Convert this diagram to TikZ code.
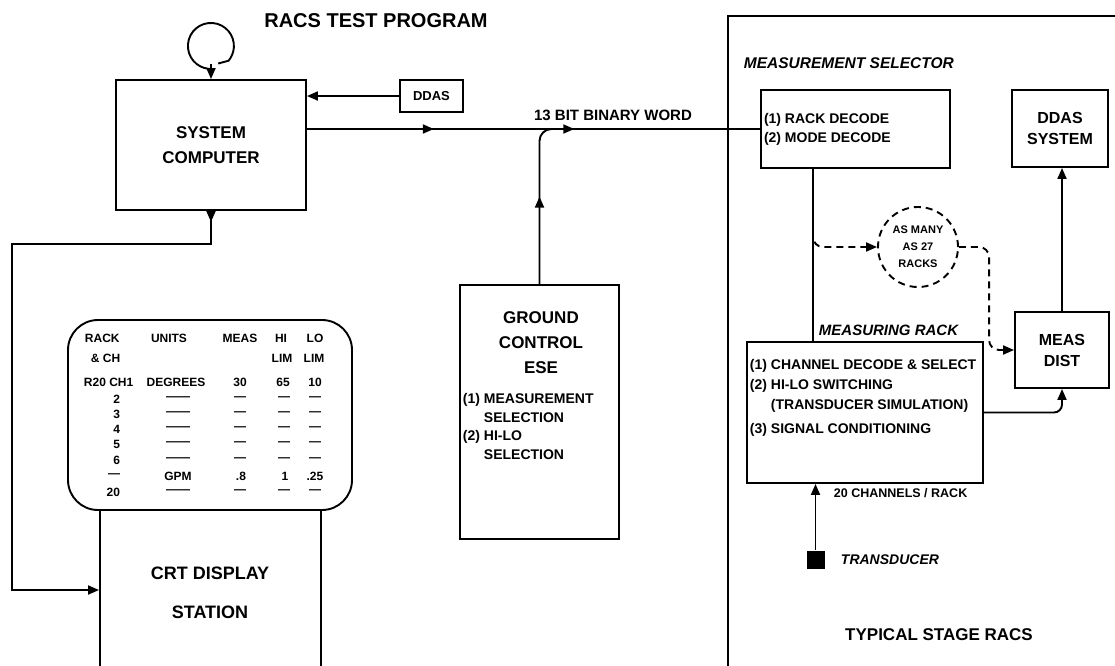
\documentclass[tikz,border=0pt]{standalone}
\usepackage{fontspec}
\setmainfont{Liberation Sans}
\usetikzlibrary{arrows.meta,decorations.markings}

\begin{document}
\begin{tikzpicture}[x=1pt,y=-1pt,line width=1.9pt,
    >={Triangle[length=11pt,width=9pt]},
    box/.style={draw,rectangle,inner sep=0pt},
    big/.style={inner sep=0pt,align=center,font=\fontsize{17}{25}\selectfont\bfseries},
    mid/.style={inner sep=0pt,align=left,font=\fontsize{14}{19}\selectfont\bfseries},
    ital/.style={inner sep=0pt,font=\fontsize{15}{18}\selectfont\bfseries\itshape},
    tab/.style={inner sep=0pt,font=\fontsize{12}{14}\selectfont\bfseries},
    midarrow/.style={postaction={decorate,decoration={markings,mark=at position #1 with {\arrow{>}}}}},
    dashline/.style={dash pattern=on 7pt off 5pt}]
  \useasboundingbox (0,0) rectangle (1115,665);
  \clip (0,0) rectangle (1115,665);

  %title and computer
  \node[inner sep=0pt,font=\fontsize{20}{24}\selectfont\bfseries] (title) at (376,21) {RACS TEST PROGRAM};
  \node[box,minimum width=190pt,minimum height=130pt,big] (comp) at (211,145) {SYSTEM\\COMPUTER};
  \node[circle,minimum size=46pt,inner sep=0pt] (loop) at (211,45) {};
  \draw (loop.-95) arc[start angle=95,end angle=400,radius=23] -- ([xshift=-1pt,yshift=4pt]loop.-70);
  \draw[->] ([yshift=5pt]loop.south) -- (comp.north);
  \node[box,minimum width=63pt,minimum height=32pt,font=\fontsize{13}{15}\selectfont\bfseries] (ddas) at (431.5,96) {DDAS};
  \draw[->] (ddas.west) -- (ddas.west -| comp.east);

  %right panel
  \node[box,minimum width=402pt,minimum height=684pt] (panel) at (929,358) {};
  \node[ital,anchor=west,font=\fontsize{15.5}{18}\selectfont\bfseries\itshape] (seltitle) at (743,63) {MEASUREMENT SELECTOR};
  \node[box,minimum width=189pt,minimum height=78pt] (msel) at (855.5,129) {};
  \node[mid,anchor=west] (seltext) at ([xshift=3pt]msel.west) {(1) RACK DECODE\\(2) MODE DECODE};
  \node[box,minimum width=96pt,minimum height=77pt,big,font=\fontsize{16}{21}\selectfont\bfseries] (dsys) at (1060,128.5) {DDAS\\SYSTEM};
  \node[box,minimum width=94pt,minimum height=76pt,big,font=\fontsize{16}{21}\selectfont\bfseries] (mdist) at (1062,350) {MEAS\\DIST};
  \draw[->] (mdist.north) -- (mdist.north |- dsys.south);

  %bus
  \draw[midarrow=0.28,midarrow=0.59] (comp.east |- msel.west) -- (msel.west);
  \node[inner sep=0pt,font=\fontsize{15}{18}\selectfont\bfseries] (word) at (613,115) {13 BIT BINARY WORD};

  %ground control
  \node[box,minimum width=159pt,minimum height=254pt] (gce) at (539.5,412) {};
  \draw[rounded corners=12pt,midarrow=0.5] (gce.north) |- ([xshift=25pt]gce.north |- msel.west);
  \node[big] (gcetitle) at (541,343) {GROUND\\CONTROL\\ESE};
  \node[mid,anchor=west,font=\fontsize{14}{18.5}\selectfont\bfseries] (gcetext) at (462,428)
    {(1) MEASUREMENT\\\phantom{(1) }SELECTION\\(2) HI-LO\\\phantom{(2) }SELECTION};

  %measuring rack
  \node[box,minimum width=236pt,minimum height=141pt] (mrack) at (865,412.5) {};
  \node[ital,anchor=west] (racktitle) at (818,330) {MEASURING RACK};
  \node[mid,anchor=west,font=\fontsize{14}{20}\selectfont\bfseries] (racktext) at (749,398)
    {(1) CHANNEL DECODE \& SELECT\\(2) HI-LO SWITCHING\\\phantom{(2) }(TRANSDUCER SIMULATION)\\[4pt](3) SIGNAL CONDITIONING};
  \coordinate (drop) at ([xshift=-42.5pt]msel.south);
  \coordinate (split) at (813,230);
  \draw (drop) -- (drop |- mrack.north);
  \node[draw,dashline,circle,minimum size=80pt,inner sep=0pt,align=center,font=\fontsize{11}{17}\selectfont\bfseries] (many) at (918,247) {AS MANY\\AS 27\\RACKS};
  \draw[dashline,rounded corners=10pt,->] (split) |- (many.west);
  \draw[dashline,rounded corners=10pt,->] (many.east) -| ([xshift=-25pt]mdist.west) -- (mdist.west);
  \draw[rounded corners=8pt,->] (mrack.east) -| (mdist.south);
  \node[inner sep=0pt,anchor=west,font=\fontsize{12.5}{15}\selectfont\bfseries] (chan) at (833,493) {20 CHANNELS / RACK};
  \node[fill,minimum size=18pt,inner sep=0pt] (xdcr) at (815.5,560) {};
  \draw[->] (xdcr.north) -- (xdcr.north |- mrack.south);
  \node[ital,anchor=west,font=\fontsize{14}{18}\selectfont\bfseries\itshape] (xdcrtext) at (840,560) {TRANSDUCER};
  \node[inner sep=0pt,font=\fontsize{17}{20}\selectfont\bfseries] (stage) at (939,635) {TYPICAL STAGE RACS};

  %crt display
  \node[draw,rounded corners=30pt,minimum width=284pt,minimum height=190pt,inner sep=0pt] (screen) at (210,415) {};
  \node[box,minimum width=221pt,minimum height=160pt] (crt) at (210.5,590) {};
  \node[big,font=\fontsize{18}{39}\selectfont\bfseries] (crttext) at (210,593) {CRT DISPLAY\\STATION};
  \coordinate (ret) at (12,244);
  \draw[{>}-{>}] (comp.south) |- (ret) |- (crt.west);

  %table on the screen
  \node[tab,anchor=west] (hrack) at (84,338) {RACK};
  \node[tab,anchor=west] (hch) at (90,358) {\& CH};
  \node[tab] (hunit) at (169,338) {UNITS};
  \node[tab] (hmeas) at (240,338) {MEAS};
  \node[tab] (hhi) at (281,338) {HI};
  \node[tab] (hlo) at (315,338) {LO};
  \node[tab] (hlim) at (282,358) {LIM};
  \node[tab] (llim) at (314,358) {LIM};
  \node[tab,anchor=west] (r1) at (83,382) {R20 CH1};
  \node[tab] (u1) at (176,382) {DEGREES};
  \node[tab] (m1) at (240,382) {30};
  \node[tab] (h1) at (283,382) {65};
  \node[tab] (l1) at (315,382) {10};
  \foreach \r/\y in {2/399,3/414,4/429,5/444,6/460}{
    \node[tab,anchor=east] (r\r) at (121,\y) {\r};
    \node[tab] (u\r) at (178,\y) {\textemdash\textemdash};
    \node[tab] (m\r) at (240,\y) {\textemdash};
    \node[tab] (h\r) at (284,\y) {\textemdash};
    \node[tab] (l\r) at (315,\y) {\textemdash};
  }
  \node[tab,anchor=east] (r7) at (121,476) {\textemdash};
  \node[tab] (u7) at (178,476) {GPM};
  \node[tab] (m7) at (241,476) {.8};
  \node[tab] (h7) at (285,476) {1};
  \node[tab] (l7) at (315,476) {.25};
  \node[tab,anchor=east] (r20) at (121,492) {20};
  \node[tab] (u20) at (178,492) {\textemdash\textemdash};
  \node[tab] (m20) at (240,492) {\textemdash};
  \node[tab] (h20) at (284,492) {\textemdash};
  \node[tab] (l20) at (315,492) {\textemdash};
\end{tikzpicture}
\end{document}
